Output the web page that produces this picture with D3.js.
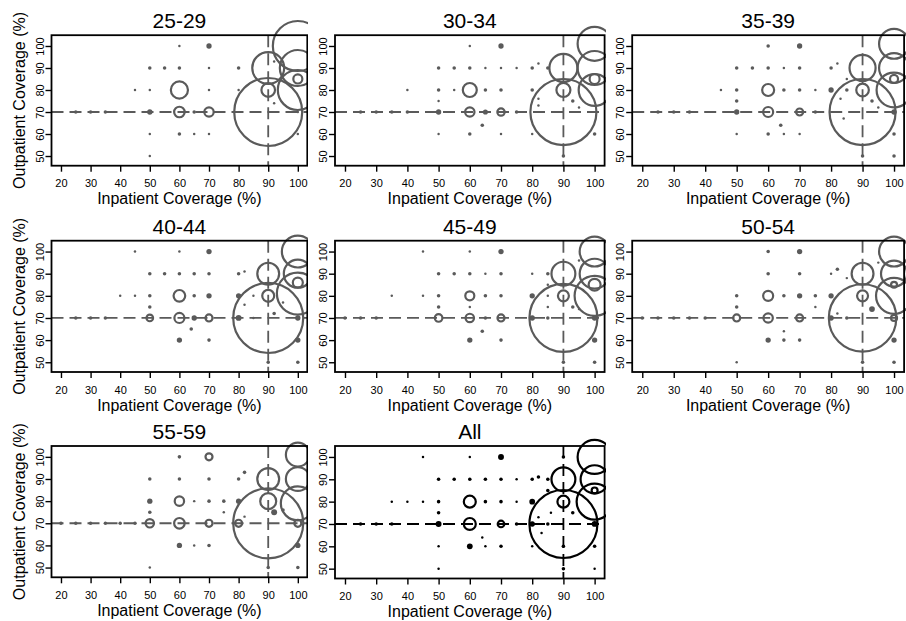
<!DOCTYPE html>
<html>
<head>
<meta charset="utf-8">
<script src="https://cdn.jsdelivr.net/npm/d3@7"></script>
<style>
  body { margin: 0; background: #fff; }
  svg { display: block; font-family: "Liberation Sans", Arial, sans-serif; }
</style>
</head>
<body>
<div id="chart"></div>
<script>
// panel titles, ticks
var titles = ["25-29", "30-34", "35-39", "40-44", "45-49", "50-54", "55-59", "All"];
var xTicks = [20, 30, 40, 50, 60, 70, 80, 90, 100];
var yTicks = [50, 60, 70, 80, 90, 100];

// [inpatient %, outpatient %, share of sites %] per age group
var age25 = [
  [60,100,0.003],[70,100,0.08],
  [50,90,0.02],[55,90,0.02],[60,90,0.02],[70,90,0.003],[80,90,0.02],[92,93,0.003],
  [45,80,0.003],[50,80,0.003],[60,80,1.9],[70,80,0.003],[80,80,0.003],[90,80,1.2],
  [25,70,0.02],[30,70,0.02],[35,70,0.02],[50,70,0.08],[60,70,0.72],[65,70,0.02],[70,70,0.57],[92,74,0.003],[100,70,0.003],
  [50,60,0.003],[60,60,0.02],[65,60,0.003],[70,60,0.003],[100,60,0.003],
  [50,50,0.003],
  [90,70,30],[90,90,6.6],[100,100,16.2],[100,90,8.4],[100,80,10.4],[100,85,0.53]
];
var age30 = [
  [60,100,0.003],[70,100,0.08],
  [50,90,0.02],[55,90,0.02],[60,90,0.02],[65,90,0.003],[70,90,0.003],[75,90,0.003],[80,90,0.02],[82,92,0.003],[85,90,0.02],
  [40,80,0.003],[50,80,0.02],[55,80,0.003],[60,80,1.27],[65,80,0.02],[70,80,0.02],[80,80,0.02],[90,80,1.27],
  [50,75,0.003],[82,76,0.003],[82,73,0.003],[93,75,0.02],[95,72,0.003],
  [25,70,0.02],[30,70,0.02],[35,70,0.02],[40,70,0.02],[50,70,0.08],[60,70,0.57],[65,70,0.07],[70,70,0.35],[75,70,0.02],
  [64,64,0.02],
  [50,60,0.003],[60,60,0.02],[70,60,0.003],[80,60,0.003],[100,60,0.02],
  [90,50,0.02],
  [90,70,28.3],[90,90,5.1],[100,101,7.5],[100,90,7.5],[100,80,6.6],[100,85,0.65]
];
var age35 = [
  [60,100,0.02],[70,100,0.08],
  [50,90,0.02],[55,90,0.02],[60,90,0.02],[65,90,0.003],[70,90,0.02],[80,90,0.02],[82,92,0.003],
  [45,80,0.003],[50,80,0.02],[60,80,0.93],[65,80,0.02],[70,80,0.02],[75,80,0.003],[80,80,0.08],[85,80,0.02],[90,80,1.03],
  [50,75,0.02],[83,76,0.003],[93,75,0.02],[95,72,0.003],[85,85,0.003],[84,67,0.003],
  [25,70,0.02],[30,70,0.02],[35,70,0.02],[50,70,0.08],[60,70,0.65],[70,70,0.32],[75,70,0.02],[100,70,0.08],
  [64,64,0.02],
  [50,60,0.003],[60,60,0.02],[65,60,0.003],[70,60,0.003],[100,60,0.02],
  [90,50,0.02],[100,50,0.02],
  [90,70,28.3],[90,90,4.4],[100,101,5.8],[100,90,5.8],[100,80,7.9],[100,85,0.42]
];
var age40 = [
  [45,100,0.003],[60,100,0.003],[70,100,0.08],
  [50,90,0.02],[55,90,0.02],[60,90,0.02],[65,90,0.02],[70,90,0.02],[80,90,0.02],[82,91,0.003],
  [40,80,0.003],[45,80,0.003],[50,80,0.02],[60,80,0.88],[65,80,0.02],[70,80,0.08],[80,80,0.08],[85,80,0.003],[90,80,0.93],
  [50,75,0.02],[82,76,0.003],[92,72,0.02],[95,77,0.003],
  [25,70,0.02],[30,70,0.02],[35,70,0.02],[50,70,0.28],[60,70,0.65],[65,70,0.08],[70,70,0.32],[80,70,0.1],[85,70,0.003],[100,70,0.08],
  [64,65,0.02],
  [60,60,0.08],[70,60,0.02],[100,60,0.08],
  [90,50,0.02],[100,50,0.02],
  [90,70,31.8],[90,90,3.1],[100,100,6.6],[100,90,5.1],[100,81,11.4],[100,86,0.65]
];
var age45 = [
  [45,100,0.003],[60,100,0.003],[70,100,0.08],
  [50,90,0.02],[55,90,0.02],[60,90,0.02],[65,90,0.003],[70,90,0.02],[80,90,0.003],[85,90,0.02],[95,96,0.003],
  [35,80,0.003],[45,80,0.003],[50,80,0.02],[60,80,0.53],[65,80,0.02],[70,80,0.02],[80,80,0.08],[85,80,0.003],[90,80,0.78],
  [50,75,0.02],[60,75,0.003],[85,75,0.003],[85,85,0.003],[93,75,0.02],[95,74,0.003],
  [20,70,0.02],[25,70,0.02],[30,70,0.02],[50,70,0.37],[60,70,0.46],[65,70,0.02],[70,70,0.32],[80,70,0.08],[85,70,0.02],[100,70,0.08],
  [64,64,0.02],
  [60,60,0.08],[70,60,0.02],[100,60,0.08],
  [90,50,0.02],[100,50,0.02],
  [90,70,30],[90,90,3.7],[100,100,5.8],[100,90,5.8],[100,80,10.4],[100,85,0.93]
];
var age50 = [
  [60,100,0.02],[70,100,0.08],
  [60,90,0.02],[70,90,0.02],[80,90,0.003],[82,92,0.02],[85,88,0.003],[95,95,0.003],
  [50,80,0.02],[60,80,0.65],[65,80,0.02],[70,80,0.08],[75,80,0.02],[80,80,0.08],[90,80,0.78],
  [50,75,0.02],[75,75,0.003],[93,74,0.1],[82,72,0.003],
  [20,70,0.02],[25,70,0.02],[30,70,0.02],[35,70,0.02],[40,70,0.02],[50,70,0.32],[60,70,0.57],[70,70,0.32],[80,70,0.08],[85,70,0.02],[100,70,0.23],
  [65,64,0.003],
  [60,60,0.08],[65,60,0.02],[70,60,0.02],[100,60,0.08],
  [50,50,0.003],[90,50,0.02],[100,50,0.02],
  [90,70,29.5],[90,90,3.1],[100,100,5.8],[100,90,4.4],[100,80,8.4],[100,85,0.23]
];
var age55 = [
  [60,100,0.02],[70,100,0.32],
  [50,90,0.02],[60,90,0.02],[70,90,0.02],[80,90,0.02],[82,93,0.02],
  [50,80,0.08],[60,80,0.57],[65,80,0.003],[70,80,0.02],[75,80,0.02],[80,80,0.08],[90,80,1.66],
  [50,75,0.02],[75,75,0.003],[92,75,0.11],[95,76,0.02],[82,73,0.003],
  [20,70,0.02],[25,70,0.02],[30,70,0.02],[35,70,0.02],[40,70,0.02],[45,70,0.02],[50,70,0.46],[60,70,0.72],[70,70,0.32],[80,70,0.32],[100,70,0.32],
  [60,60,0.08],[65,60,0.003],[70,60,0.02],[100,60,0.08],
  [50,50,0.003],[90,50,0.02],[100,50,0.02],
  [90,70,31.8],[90,90,3.1],[100,101,3.7],[100,90,3.7],[100,79,7.5]
];
var ageAll = [
  [45,100,0.003],[60,100,0.003],[70,100,0.11],[90,100,0.02],
  [50,90,0.02],[55,90,0.02],[60,90,0.02],[65,90,0.02],[70,90,0.02],[75,90,0.003],[80,90,0.02],[82,91,0.02],[85,90,0.02],
  [35,80,0.003],[40,80,0.003],[45,80,0.003],[50,80,0.02],[60,80,0.93],[65,80,0.02],[70,80,0.02],[75,80,0.003],[80,80,0.1],[85,85,0.02],[90,80,0.93],
  [50,75,0.02],[82,73,0.003],[83,66,0.003],[86,75,0.003],[93,75,0.02],
  [25,70,0.02],[30,70,0.02],[35,70,0.02],[50,70,0.11],[60,70,0.93],[70,70,0.28],[75,70,0.02],[80,70,0.08],[85,70,0.02],[100,70,0.1],
  [64,64,0.003],
  [50,60,0.003],[60,60,0.1],[65,60,0.003],[70,60,0.02],[80,60,0.003],[90,60,0.02],[100,60,0.02],
  [50,50,0.003],[90,50,0.02],[100,50,0.003],
  [90,70,30],[90,90,3.7],[100,100,7.5],[100,90,5.1],[100,80,8.4],[100,85,0.23]
];
var panelData = [age25, age30, age35, age40, age45, age50, age55, ageAll];

var width = 906, height = 621;
// plot boxes per column / row (the three columns were pasted side by side)
var colBox = [[51.5, 307.3], [335, 604.6], [632.2, 904.1]];
var colClip = [[0, 308], [308, 606], [606, 906]];
var rowBox = [[35.2, 165.7], [240.7, 372], [446, 577.3]];

var r = d3.scaleSqrt().domain([0, 30]).range([0, 34]);
var lw = 2.2;

var svg = d3.select("#chart").append("svg")
  .attr("width", width)
  .attr("height", height);

var defs = svg.append("defs");
colClip.forEach(function (c, i) {
  defs.append("clipPath").attr("id", "clip" + i)
    .append("rect")
    .attr("x", c[0]).attr("y", 0)
    .attr("width", c[1] - c[0]).attr("height", height);
});

titles.forEach(function (title, i) {
  var col = i % 3, row = Math.floor(i / 3);
  var isAll = title === "All";
  var yb = [rowBox[row][0], isAll ? 578.5 : rowBox[row][1]];
  var color = isAll ? "#000" : "#5a5a5a";

  var x = d3.scaleLinear().domain([16.8, 103.2]).range(colBox[col]);
  var y = d3.scaleLinear().domain([45.6, 104.9]).range([yb[1], yb[0]]);

  var g = svg.append("g").attr("clip-path", "url(#clip" + col + ")");

  // reference lines at 90% inpatient / 70% outpatient
  g.append("line")
    .attr("x1", x(16.8)).attr("x2", x(103.2))
    .attr("y1", y(70)).attr("y2", y(70))
    .attr("stroke", color).attr("stroke-width", 1.8)
    .attr("stroke-dasharray", "12,6");
  g.append("line")
    .attr("x1", x(90)).attr("x2", x(90))
    .attr("y1", y(104.9)).attr("y2", y(45.6))
    .attr("stroke", color).attr("stroke-width", 1.8)
    .attr("stroke-dasharray", "12,6");

  // circles; the small ones come out as solid dots, as in the thick-lined original
  g.selectAll("circle.pt")
    .data(panelData[i])
    .enter().append("circle")
    .attr("class", "pt")
    .attr("cx", function (d) { return x(d[0]); })
    .attr("cy", function (d) { return y(d[1]); })
    .attr("r", function (d) { var rr = r(d[2]); return rr < lw ? rr + 0.9 : rr; })
    .attr("fill", function (d) { return r(d[2]) < lw ? color : "none"; })
    .attr("stroke", function (d) { return r(d[2]) < lw ? "none" : color; })
    .attr("stroke-width", lw);

  // frame
  g.append("rect")
    .attr("x", x(16.8)).attr("y", y(104.9))
    .attr("width", x(103.2) - x(16.8))
    .attr("height", y(45.6) - y(104.9))
    .attr("fill", "none").attr("stroke", "#000").attr("stroke-width", 1.8);

  var xAxis = d3.axisBottom(x).tickValues(xTicks).tickSize(6).tickPadding(8);
  var gx = g.append("g")
    .attr("transform", "translate(0," + yb[1] + ")")
    .call(xAxis);
  gx.attr("font-family", null);
  gx.select(".domain").remove();
  gx.selectAll("line").attr("stroke", "#000").attr("stroke-width", 1.4);
  gx.selectAll("text").attr("font-size", 11).attr("fill", "#000");

  var yAxis = d3.axisLeft(y).tickValues(yTicks).tickSize(6);
  var gy = g.append("g")
    .attr("transform", "translate(" + x(16.8) + ",0)")
    .call(yAxis);
  gy.attr("font-family", null);
  gy.select(".domain").remove();
  gy.selectAll("line").attr("stroke", "#000").attr("stroke-width", 1.4);
  gy.selectAll("text")
    .attr("font-size", 11).attr("fill", "#000")
    .attr("transform", "rotate(-90)")
    .attr("x", 0).attr("y", -8).attr("dy", 0)
    .attr("text-anchor", "middle");

  g.append("text")
    .attr("x", (x(16.8) + x(103.2)) / 2)
    .attr("y", yb[0] - 7)
    .attr("text-anchor", "middle")
    .attr("font-size", 21)
    .text(title);

  g.append("text")
    .attr("x", (x(16.8) + x(103.2)) / 2)
    .attr("y", yb[1] + 38.5)
    .attr("text-anchor", "middle")
    .attr("font-size", 16)
    .text("Inpatient Coverage (%)");

  if (col === 0) {
    var cy = (yb[0] + yb[1]) / 2;
    g.append("text")
      .attr("transform", "translate(25," + cy + ") rotate(-90)")
      .attr("text-anchor", "middle")
      .attr("font-size", 16)
      .text("Outpatient Coverage (%)");
  }
});
</script>
</body>
</html>
